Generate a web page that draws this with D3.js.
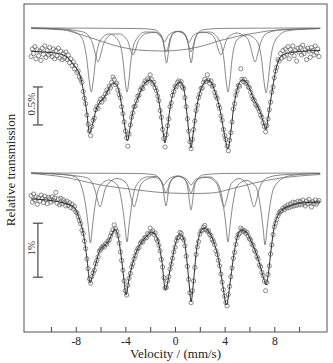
<!DOCTYPE html>
<html><head><meta charset="utf-8">
<script src="https://cdn.jsdelivr.net/npm/d3@7"></script>
<style>html,body{margin:0;padding:0;background:#fff;} svg{display:block;}</style>
</head><body>
<svg id="chart" width="333" height="363"></svg>
<script>
// ---------- axis ----------
const xTickValues = [-10,-8,-6,-4,-2,0,2,4,6,8,10];
const xTickLabels = [-8,-4,0,4,8];
const xTitle = "Velocity / (mm/s)";
const yTitle = "Relative transmission";

// ---------- scale bars (relative transmission, %) ----------
const topScaleBar = [-0.46, -0.96];
const topScaleLabel = "0.5%";
const bottomScaleBar = [-0.43, -1.43];
const bottomScaleLabel = "1%";

// ---------- measured spectra: [velocity mm/s, relative transmission change %] ----------
const topData = [
[-11.6,-0.06],[-11.5,0.04],[-11.4,-0.02],[-11.3,0.07],[-11.2,-0.09],[-11.1,0.03],[-11.0,-0.05],[-10.9,0.01],[-10.8,-0.11],[-10.7,0.05],
[-10.6,-0.03],[-10.5,0.08],[-10.4,-0.07],[-10.3,0.02],[-10.2,-0.04],[-10.1,0.06],[-10.0,-0.02],[-9.9,-0.06],[-9.8,0.04],[-9.7,-0.09],
[-9.6,0.02],[-9.5,-0.05],[-9.4,0.05],[-9.3,-0.08],[-9.2,0.01],[-9.1,-0.10],[-9.0,-0.02],[-8.9,-0.08],[-8.8,0.0],[-8.7,-0.10],
[-8.6,-0.04],[-8.5,-0.14],[-8.4,-0.09],[-8.3,-0.18],[-8.2,-0.13],[-8.1,-0.22],[-8.0,-0.18],[-7.9,-0.27],[-7.8,-0.25],[-7.7,-0.33],
[-7.6,-0.36],[-7.5,-0.40],[-7.4,-0.52],[-7.3,-0.61],[-7.2,-0.68],[-7.1,-0.83],[-7.0,-0.95],[-6.9,-1.04],[-6.8,-1.10],[-6.7,-0.98],
[-6.6,-0.90],[-6.5,-0.87],[-6.4,-0.76],[-6.3,-0.72],[-6.2,-0.74],[-6.1,-0.66],[-6.0,-0.62],[-5.9,-0.66],[-5.8,-0.60],[-5.7,-0.62],
[-5.6,-0.55],[-5.5,-0.50],[-5.4,-0.53],[-5.3,-0.45],[-5.2,-0.47],[-5.1,-0.40],[-5.0,-0.33],[-4.9,-0.36],[-4.8,-0.43],[-4.7,-0.41],
[-4.6,-0.50],[-4.5,-0.56],[-4.4,-0.60],[-4.3,-0.72],[-4.2,-0.81],[-4.1,-0.92],[-4.0,-1.04],[-3.9,-1.13],[-3.8,-1.24],[-3.7,-1.08],
[-3.6,-0.96],[-3.5,-0.86],[-3.4,-0.80],[-3.3,-0.72],[-3.2,-0.71],[-3.1,-0.64],[-3.0,-0.58],[-2.9,-0.57],[-2.8,-0.50],[-2.7,-0.47],
[-2.6,-0.48],[-2.5,-0.42],[-2.4,-0.38],[-2.3,-0.40],[-2.2,-0.35],[-2.1,-0.37],[-2.0,-0.30],[-1.9,-0.36],[-1.8,-0.42],[-1.7,-0.40],
[-1.6,-0.47],[-1.5,-0.51],[-1.4,-0.58],[-1.3,-0.64],[-1.2,-0.77],[-1.1,-0.86],[-1.0,-1.02],[-0.9,-1.14],[-0.8,-1.25],[-0.7,-1.09],
[-0.6,-0.97],[-0.5,-0.88],[-0.4,-0.72],[-0.3,-0.67],[-0.2,-0.57],[-0.1,-0.52],[0.0,-0.45],[0.1,-0.46],[0.2,-0.40],[0.3,-0.38],
[0.4,-0.42],[0.5,-0.39],[0.6,-0.46],[0.7,-0.48],[0.8,-0.60],[0.9,-0.72],[1.0,-0.88],[1.1,-1.04],[1.2,-1.18],[1.3,-1.27],
[1.4,-1.15],[1.5,-1.02],[1.6,-0.91],[1.7,-0.77],[1.8,-0.70],[1.9,-0.60],[2.0,-0.55],[2.1,-0.48],[2.2,-0.47],[2.3,-0.40],
[2.4,-0.36],[2.5,-0.39],[2.6,-0.30],[2.7,-0.37],[2.8,-0.41],[2.9,-0.38],[3.0,-0.45],[3.1,-0.44],[3.2,-0.53],[3.3,-0.58],
[3.4,-0.61],[3.5,-0.70],[3.6,-0.74],[3.7,-0.84],[3.8,-0.90],[3.9,-1.02],[4.0,-1.10],[4.1,-1.15],[4.2,-1.24],[4.3,-1.30],
[4.4,-1.16],[4.5,-1.06],[4.6,-0.92],[4.7,-0.75],[4.8,-0.68],[4.9,-0.57],[5.0,-0.51],[5.1,-0.44],[5.2,-0.45],[5.3,-0.22],
[5.4,-0.36],[5.5,-0.39],[5.6,-0.36],[5.7,-0.41],[5.8,-0.40],[5.9,-0.46],[6.0,-0.47],[6.1,-0.53],[6.2,-0.58],[6.3,-0.62],
[6.4,-0.64],[6.5,-0.69],[6.6,-0.71],[6.7,-0.74],[6.8,-0.78],[6.9,-0.83],[7.0,-0.86],[7.1,-0.93],[7.2,-0.98],[7.3,-1.05],
[7.4,-0.97],[7.5,-0.88],[7.6,-0.76],[7.7,-0.66],[7.8,-0.53],[7.9,-0.46],[8.0,-0.34],[8.1,-0.25],[8.2,-0.20],[8.3,-0.10],
[8.4,-0.12],[8.5,-0.02],[8.6,-0.08],[8.7,0.02],[8.8,-0.06],[8.9,0.04],[9.0,-0.03],[9.1,0.07],[9.2,-0.09],[9.3,0.03],
[9.4,-0.01],[9.5,0.08],[9.6,-0.05],[9.7,0.02],[9.8,-0.12],[9.9,0.05],[10.0,0.0],[10.1,0.06],[10.2,-0.04],[10.3,0.09],
[10.4,-0.02],[10.5,0.03],[10.6,-0.10],[10.7,0.05],[10.8,0.01],[10.9,-0.07],[11.0,0.06],[11.1,0.02],[11.2,-0.04],[11.3,0.08],
[11.4,-0.01],[11.5,0.04],[11.6,-0.06]
];
const bottomData = [
[-11.6,0.08],[-11.5,-0.04],[-11.4,0.11],[-11.3,0.0],[-11.2,0.06],[-11.1,-0.08],[-11.0,0.04],[-10.9,-0.02],[-10.8,0.09],[-10.7,0.03],
[-10.6,-0.05],[-10.5,0.07],[-10.4,0.01],[-10.3,-0.07],[-10.2,0.05],[-10.1,0.02],[-10.0,-0.04],[-9.9,0.06],[-9.8,-0.01],[-9.7,0.04],
[-9.6,0.14],[-9.5,-0.06],[-9.4,0.02],[-9.3,-0.09],[-9.2,0.03],[-9.1,-0.07],[-9.0,0.0],[-8.9,-0.04],[-8.8,-0.11],[-8.7,-0.02],
[-8.6,-0.10],[-8.5,-0.05],[-8.4,-0.14],[-8.3,-0.08],[-8.2,-0.16],[-8.1,-0.12],[-8.0,-0.22],[-7.9,-0.24],[-7.8,-0.31],[-7.7,-0.38],
[-7.6,-0.44],[-7.5,-0.56],[-7.4,-0.62],[-7.3,-0.76],[-7.2,-0.90],[-7.1,-1.09],[-7.0,-1.27],[-6.9,-1.46],[-6.8,-1.54],[-6.7,-1.42],
[-6.6,-1.35],[-6.5,-1.30],[-6.4,-1.18],[-6.3,-1.12],[-6.2,-1.05],[-6.1,-0.95],[-6.0,-0.92],[-5.9,-0.88],[-5.8,-0.85],[-5.7,-0.87],
[-5.6,-0.81],[-5.5,-0.82],[-5.4,-0.76],[-5.3,-0.74],[-5.2,-0.67],[-5.1,-0.61],[-5.0,-0.55],[-4.9,-0.46],[-4.8,-0.53],[-4.7,-0.58],
[-4.6,-0.66],[-4.5,-0.80],[-4.4,-0.96],[-4.3,-1.12],[-4.2,-1.30],[-4.1,-1.50],[-4.0,-1.68],[-3.9,-1.76],[-3.8,-1.58],[-3.7,-1.45],
[-3.6,-1.36],[-3.5,-1.24],[-3.4,-1.18],[-3.3,-1.09],[-3.2,-1.03],[-3.1,-0.95],[-3.0,-0.90],[-2.9,-0.88],[-2.8,-0.80],[-2.7,-0.77],
[-2.6,-0.78],[-2.5,-0.72],[-2.4,-0.69],[-2.3,-0.70],[-2.2,-0.62],[-2.1,-0.64],[-2.0,-0.52],[-1.9,-0.60],[-1.8,-0.57],[-1.7,-0.64],
[-1.6,-0.61],[-1.5,-0.72],[-1.4,-0.76],[-1.3,-0.84],[-1.2,-0.94],[-1.1,-1.10],[-1.0,-1.24],[-0.9,-1.44],[-0.8,-1.63],[-0.7,-1.62],
[-0.6,-1.50],[-0.5,-1.42],[-0.4,-1.28],[-0.3,-1.19],[-0.2,-1.08],[-0.1,-0.96],[0.0,-0.87],[0.1,-0.76],[0.2,-0.70],[0.3,-0.69],
[0.4,-0.60],[0.5,-0.62],[0.6,-0.70],[0.7,-0.74],[0.8,-0.85],[0.9,-1.04],[1.0,-1.23],[1.1,-1.47],[1.2,-1.72],[1.3,-1.90],
[1.4,-1.68],[1.5,-1.50],[1.6,-1.25],[1.7,-1.01],[1.8,-0.87],[1.9,-0.77],[2.0,-0.63],[2.1,-0.57],[2.2,-0.56],[2.3,-0.50],
[2.4,-0.47],[2.5,-0.55],[2.6,-0.58],[2.7,-0.57],[2.8,-0.64],[2.9,-0.66],[3.0,-0.73],[3.1,-0.77],[3.2,-0.83],[3.3,-0.94],
[3.4,-1.01],[3.5,-1.12],[3.6,-1.22],[3.7,-1.37],[3.8,-1.52],[3.9,-1.66],[4.0,-1.78],[4.1,-1.90],[4.2,-1.96],[4.3,-1.75],
[4.4,-1.60],[4.5,-1.42],[4.6,-1.26],[4.7,-1.08],[4.8,-0.97],[4.9,-0.82],[5.0,-0.70],[5.1,-0.64],[5.2,-0.62],[5.3,-0.52],
[5.4,-0.55],[5.5,-0.58],[5.6,-0.57],[5.7,-0.62],[5.8,-0.60],[5.9,-0.67],[6.0,-0.72],[6.1,-0.74],[6.2,-0.82],[6.3,-0.84],
[6.4,-0.93],[6.5,-0.96],[6.6,-1.05],[6.7,-1.09],[6.8,-1.20],[6.9,-1.24],[7.0,-1.34],[7.1,-1.40],[7.2,-1.50],[7.3,-1.68],
[7.4,-1.53],[7.5,-1.38],[7.6,-1.22],[7.7,-1.00],[7.8,-0.83],[7.9,-0.64],[8.0,-0.50],[8.1,-0.43],[8.2,-0.36],[8.3,-0.29],
[8.4,-0.24],[8.5,-0.21],[8.6,-0.20],[8.7,-0.15],[8.8,-0.18],[8.9,-0.12],[9.0,-0.15],[9.1,-0.09],[9.2,-0.14],[9.3,-0.07],
[9.4,-0.12],[9.5,-0.04],[9.6,-0.11],[9.7,-0.05],[9.8,-0.10],[9.9,-0.02],[10.0,-0.09],[10.1,-0.03],[10.2,-0.08],[10.3,0.0],
[10.4,-0.06],[10.5,-0.11],[10.6,-0.02],[10.7,-0.07],[10.8,0.01],[10.9,-0.05],[11.0,-0.13],[11.1,-0.03],[11.2,-0.07],[11.3,0.0],
[11.4,-0.08],[11.5,-0.04],[11.6,-0.01]
];

// ---------- total fits ----------
const topFit = [[-11.6,0.01],[-10.5,0.0],[-9.8,-0.01],[-9.3,-0.026],[-8.7,-0.066],[-8.15,-0.171],[-7.6,-0.342],[-7.35,-0.54],[-7.1,-0.803],[-6.9,-1.066],[-6.6,-0.921],[-6.37,-0.763],[-6.05,-0.658],[-5.73,-0.605],[-5.4,-0.5],[-5.0,-0.408],[-4.7,-0.434],[-4.45,-0.566],[-4.2,-0.803],[-4.0,-1.026],[-3.83,-1.171],[-3.63,-1.0],[-3.4,-0.789],[-3.06,-0.632],[-2.74,-0.5],[-2.34,-0.395],[-2.0,-0.368],[-1.7,-0.421],[-1.37,-0.579],[-1.13,-0.829],[-0.93,-1.092],[-0.81,-1.197],[-0.65,-1.053],[-0.4,-0.737],[-0.08,-0.5],[0.24,-0.408],[0.48,-0.395],[0.73,-0.5],[0.97,-0.829],[1.17,-1.132],[1.29,-1.263],[1.45,-1.092],[1.69,-0.789],[2.02,-0.526],[2.34,-0.408],[2.58,-0.368],[2.9,-0.395],[3.23,-0.526],[3.63,-0.763],[3.95,-1.053],[4.27,-1.276],[4.5,-1.053],[4.7,-0.763],[5.0,-0.5],[5.4,-0.368],[5.73,-0.395],[6.0,-0.474],[6.3,-0.605],[6.6,-0.697],[6.95,-0.829],[7.18,-0.961],[7.34,-1.026],[7.5,-0.868],[7.75,-0.592],[8.0,-0.342],[8.2,-0.184],[8.4,-0.092],[8.7,-0.039],[9.2,-0.013],[10.0,0.007],[11.7,0.02]];
const bottomFit = [[-11.6,0.02],[-9.27,-0.037],[-8.47,-0.093],[-8.15,-0.13],[-7.74,-0.333],[-7.34,-0.685],[-7.1,-1.074],[-6.85,-1.537],[-6.61,-1.37],[-6.37,-1.167],[-6.05,-0.926],[-5.73,-0.852],[-5.4,-0.778],[-5.08,-0.63],[-4.84,-0.537],[-4.6,-0.667],[-4.35,-1.019],[-4.11,-1.481],[-3.95,-1.759],[-3.71,-1.463],[-3.47,-1.222],[-3.15,-0.981],[-2.74,-0.796],[-2.26,-0.667],[-1.94,-0.593],[-1.61,-0.63],[-1.29,-0.833],[-1.05,-1.148],[-0.77,-1.667],[-0.48,-1.389],[-0.24,-1.111],[0.08,-0.778],[0.4,-0.63],[0.73,-0.741],[0.97,-1.148],[1.17,-1.63],[1.29,-1.889],[1.49,-1.519],[1.69,-1.019],[2.02,-0.611],[2.34,-0.519],[2.74,-0.593],[3.15,-0.796],[3.55,-1.148],[3.87,-1.611],[4.15,-1.944],[4.44,-1.537],[4.68,-1.111],[5.0,-0.704],[5.32,-0.556],[5.73,-0.593],[6.13,-0.759],[6.53,-0.981],[6.85,-1.204],[7.14,-1.444],[7.34,-1.574],[7.54,-1.333],[7.74,-0.926],[7.98,-0.519],[8.31,-0.278],[8.71,-0.167],[9.27,-0.111],[10.08,-0.056],[11.7,-0.037]];

// ---------- subspectra (shown shifted above the data) ----------
const topComponentOffset = 0.316;
const topComponentA = [[-11.6,0],[-9.0,-0.02],[-8.0,-0.06],[-7.5,-0.132],[-7.1,-0.421],[-6.92,-0.684],[-6.75,-0.842],[-6.58,-0.684],[-6.4,-0.421],[-6.0,-0.158],[-5.3,-0.079],[-4.6,-0.158],[-4.19,-0.421],[-4.03,-0.684],[-3.87,-0.842],[-3.71,-0.684],[-3.55,-0.421],[-3.15,-0.158],[-2.4,-0.053],[-1.6,-0.053],[-1.2,-0.105],[-0.98,-0.158],[-0.85,-0.25],[-0.7,-0.316],[-0.55,-0.25],[-0.42,-0.158],[-0.1,-0.066],[0.3,-0.046],[0.7,-0.066],[0.99,-0.158],[1.14,-0.25],[1.29,-0.316],[1.44,-0.25],[1.59,-0.158],[1.9,-0.066],[2.8,-0.053],[3.55,-0.158],[3.95,-0.421],[4.11,-0.684],[4.27,-0.842],[4.43,-0.684],[4.59,-0.421],[5.0,-0.158],[5.8,-0.092],[6.6,-0.171],[6.99,-0.428],[7.17,-0.697],[7.34,-0.855],[7.51,-0.697],[7.69,-0.428],[8.1,-0.158],[9.0,-0.039],[10.0,-0.02],[11.7,-0.007]];
const topComponentB = [[-11.6,0],[-9.0,-0.013],[-7.8,-0.039],[-7.2,-0.066],[-6.8,-0.145],[-6.6,-0.224],[-6.4,-0.355],[-6.2,-0.447],[-6.0,-0.355],[-5.8,-0.23],[-5.5,-0.132],[-5.0,-0.079],[-4.4,-0.079],[-3.99,-0.132],[-3.79,-0.178],[-3.59,-0.289],[-3.39,-0.355],[-3.19,-0.289],[-2.99,-0.184],[-2.79,-0.132],[-2.2,-0.066],[-1.55,-0.059],[-1.2,-0.092],[-1.0,-0.145],[-0.85,-0.184],[-0.7,-0.145],[-0.5,-0.092],[0.15,-0.046],[0.8,-0.092],[0.95,-0.145],[1.15,-0.184],[1.3,-0.145],[1.5,-0.092],[2.2,-0.053],[3.0,-0.092],[3.3,-0.178],[3.5,-0.289],[3.7,-0.355],[3.9,-0.289],[4.1,-0.178],[4.4,-0.105],[5.0,-0.066],[5.5,-0.099],[5.85,-0.138],[6.05,-0.224],[6.25,-0.355],[6.45,-0.447],[6.65,-0.355],[6.85,-0.224],[7.05,-0.138],[7.45,-0.066],[8.5,-0.026],[10.0,-0.013],[11.7,-0.007]];
const topComponentC = [[-11.6,-0.007],[-9.0,-0.026],[-8.0,-0.066],[-7.0,-0.118],[-6.0,-0.171],[-5.0,-0.224],[-4.0,-0.263],[-3.0,-0.289],[-1.0,-0.303],[0.5,-0.289],[1.5,-0.263],[2.5,-0.224],[3.5,-0.171],[4.5,-0.132],[5.5,-0.092],[6.5,-0.066],[7.5,-0.039],[9.0,-0.02],[11.7,-0.007]];
const topComponentD = [[-11.6,0],[-3.0,-0.007],[-1.7,-0.021],[-1.08,-0.105],[-0.9,-0.23],[-0.78,-0.382],[-0.68,-0.461],[-0.58,-0.382],[-0.46,-0.23],[-0.28,-0.112],[0.0,-0.053],[0.31,-0.043],[0.6,-0.053],[0.9,-0.112],[1.08,-0.23],[1.2,-0.382],[1.3,-0.461],[1.4,-0.382],[1.52,-0.23],[1.7,-0.105],[2.3,-0.021],[4.0,-0.005],[11.7,0]];

const bottomComponentOffset = 0.5;
const bottomComponentA = [[-11.6,0],[-9.0,-0.028],[-8.0,-0.074],[-7.55,-0.241],[-7.17,-0.648],[-6.99,-0.981],[-6.82,-1.296],[-6.65,-0.981],[-6.47,-0.648],[-6.1,-0.259],[-5.35,-0.13],[-4.6,-0.241],[-4.22,-0.639],[-4.04,-0.963],[-3.87,-1.278],[-3.7,-0.963],[-3.52,-0.639],[-3.15,-0.241],[-2.3,-0.074],[-1.5,-0.065],[-1.03,-0.185],[-0.88,-0.296],[-0.73,-0.37],[-0.58,-0.296],[-0.43,-0.185],[0.28,-0.056],[0.99,-0.185],[1.14,-0.296],[1.29,-0.37],[1.44,-0.296],[1.59,-0.185],[2.3,-0.074],[2.8,-0.074],[3.55,-0.241],[3.92,-0.639],[4.1,-0.963],[4.27,-1.278],[4.44,-0.963],[4.62,-0.639],[5.0,-0.241],[5.75,-0.139],[6.5,-0.25],[6.91,-0.667],[7.09,-1.0],[7.26,-1.333],[7.43,-1.0],[7.61,-0.667],[8.0,-0.259],[9.0,-0.065],[10.0,-0.028],[11.7,-0.009]];
const bottomComponentB = [[-11.6,0],[-9.0,-0.028],[-7.6,-0.065],[-7.05,-0.093],[-6.65,-0.194],[-6.45,-0.315],[-6.25,-0.5],[-6.05,-0.63],[-5.85,-0.5],[-5.65,-0.315],[-5.4,-0.204],[-4.68,-0.102],[-3.9,-0.194],[-3.7,-0.315],[-3.5,-0.5],[-3.3,-0.63],[-3.1,-0.5],[-2.9,-0.315],[-2.7,-0.194],[-2.2,-0.111],[-1.7,-0.083],[-1.3,-0.111],[-1.1,-0.167],[-0.9,-0.222],[-0.7,-0.167],[-0.5,-0.111],[0.2,-0.056],[0.9,-0.111],[1.1,-0.167],[1.3,-0.222],[1.5,-0.167],[1.7,-0.111],[2.6,-0.083],[3.35,-0.194],[3.55,-0.315],[3.75,-0.5],[3.95,-0.63],[4.15,-0.5],[4.35,-0.315],[4.55,-0.194],[5.16,-0.102],[5.77,-0.194],[5.97,-0.315],[6.17,-0.5],[6.37,-0.63],[6.57,-0.5],[6.77,-0.315],[6.97,-0.194],[7.4,-0.093],[8.5,-0.037],[10.0,-0.019],[11.7,-0.009]];
const bottomComponentC = [[-11.6,-0.009],[-9.0,-0.074],[-6.0,-0.222],[-3.0,-0.315],[-0.5,-0.37],[1.5,-0.38],[3.0,-0.37],[4.5,-0.296],[6.4,-0.185],[8.5,-0.093],[10.0,-0.056],[11.7,-0.028]];
const bottomComponentD = [[-11.6,0],[-3.0,-0.009],[-1.75,-0.028],[-1.13,-0.141],[-0.95,-0.306],[-0.83,-0.507],[-0.73,-0.611],[-0.63,-0.507],[-0.51,-0.306],[-0.33,-0.141],[0.0,-0.074],[0.28,-0.065],[0.6,-0.083],[0.89,-0.157],[1.07,-0.343],[1.19,-0.569],[1.29,-0.685],[1.39,-0.569],[1.51,-0.343],[1.69,-0.157],[2.3,-0.033],[4.0,-0.009],[11.7,0]];

// ---------- drawing ----------
const FONT = "'Liberation Serif','Times New Roman',serif";
const svg = d3.select("#chart");
const box = {left:24, top:4, right:327, bottom:332};
const x = d3.scaleLinear().domain([-12.17, 12.25]).range([box.left, box.right]);
const yTop = d3.scaleLinear().domain([0, -1]).range([52, 128]);
const yBot = d3.scaleLinear().domain([0, -1]).range([200, 254]);

function drawPanel(y, data, fit, comps, offset, bar, barLabel) {
  const g = svg.append("g");
  const compLine = d3.line().curve(d3.curveMonotoneX)
      .x(d => x(d[0])).y(d => y(d[1] + offset));
  comps.forEach(c => {
    g.append("path").datum(c).attr("d", compLine)
      .attr("fill","none").attr("stroke","#6a6a6a").attr("stroke-width",0.8);
  });
  g.selectAll("circle.pt").data(data).enter().append("circle")
    .attr("class","pt")
    .attr("cx", d => x(d[0])).attr("cy", d => y(d[1])).attr("r", 2.1)
    .attr("fill","none").attr("stroke","#5a5a5a").attr("stroke-width",0.7);
  const fitLine = d3.line().curve(d3.curveMonotoneX).x(d => x(d[0])).y(d => y(d[1]));
  g.append("path").datum(fit).attr("d", fitLine)
    .attr("fill","none").attr("stroke","#2a2a2a").attr("stroke-width",1);
  // scale bar
  const bx = x(-11.05), cap = 5;
  g.append("line").attr("x1",bx).attr("x2",bx).attr("y1",y(bar[0])).attr("y2",y(bar[1]))
    .attr("stroke","#555").attr("stroke-width",1.3);
  [bar[0], bar[1]].forEach(v => {
    g.append("line").attr("x1",bx-cap).attr("x2",bx+cap).attr("y1",y(v)).attr("y2",y(v))
      .attr("stroke","#555").attr("stroke-width",1.3);
  });
  const ly = (y(bar[0]) + y(bar[1])) / 2 - 2;
  g.append("text").attr("transform", `translate(${x(-11.3)},${ly}) rotate(-90)`)
    .attr("text-anchor","middle").attr("font-family",FONT).attr("font-size",11)
    .attr("fill","#333").text(barLabel);
}

drawPanel(yTop, topData, topFit,
  [topComponentC, topComponentB, topComponentA, topComponentD], topComponentOffset,
  topScaleBar, topScaleLabel);
drawPanel(yBot, bottomData, bottomFit,
  [bottomComponentC, bottomComponentB, bottomComponentA, bottomComponentD], bottomComponentOffset,
  bottomScaleBar, bottomScaleLabel);

// axis with inward ticks
const axis = d3.axisBottom(x).tickValues(xTickValues).tickSize(-5).tickPadding(5)
  .tickFormat(d => xTickLabels.includes(d) ? String(d) : "");
const ag = svg.append("g").attr("transform", `translate(0,${box.bottom})`).call(axis);
ag.select(".domain").remove();
ag.selectAll(".tick line").attr("stroke","#444");
ag.selectAll(".tick text").attr("font-family",FONT).attr("font-size",11.5).attr("fill","#222");

// frame
svg.append("rect").attr("x",box.left).attr("y",box.top)
  .attr("width",box.right-box.left).attr("height",box.bottom-box.top)
  .attr("fill","none").attr("stroke","#555").attr("stroke-width",1);

// titles
svg.append("text").attr("x",(box.left+box.right)/2).attr("y",358)
  .attr("text-anchor","middle").attr("font-family",FONT).attr("font-size",13)
  .attr("fill","#222").text(xTitle);
svg.append("text").attr("transform",`translate(15,${(box.top+box.bottom)/2+2}) rotate(-90)`)
  .attr("text-anchor","middle").attr("font-family",FONT).attr("font-size",13)
  .attr("fill","#222").text(yTitle);
</script>
</body></html>
